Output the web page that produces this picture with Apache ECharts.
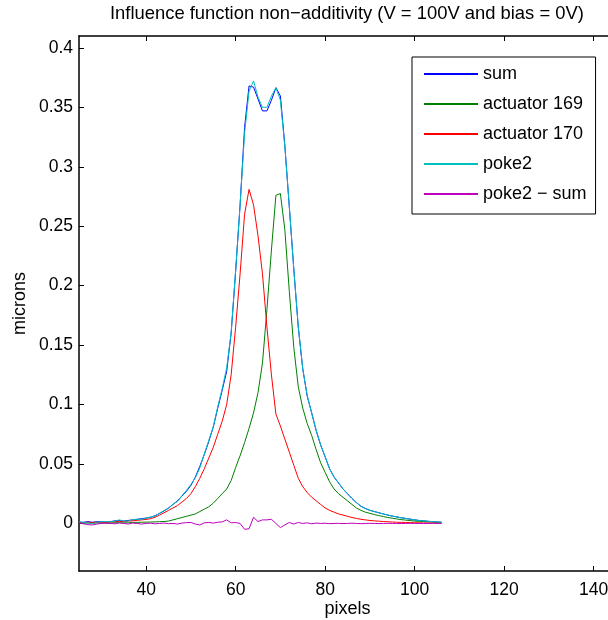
<!DOCTYPE html>
<html>
<head>
<meta charset="utf-8">
<script src="https://cdn.jsdelivr.net/npm/echarts@6/dist/echarts.min.js"></script>
<style>html,body{margin:0;padding:0;background:#fff;}#c{width:608px;height:620px;}</style>
</head>
<body>
<div id="c"></div>
<script>
const pixels = [25,26,27,28,29,30,31,32,33,34,35,36,37,38,39,40,41,42,43,44,45,46,47,48,49,50,51,52,53,54,55,56,57,58,59,60,61,62,63,64,65,66,67,68,69,70,71,72,73,74,75,76,77,78,79,80,81,82,83,84,85,86,87,88,89,90,91,92,93,94,95,96,97,98,99,100,101,102,103,104,105,106];
const sumVals = [0.0010,0.0010,0.0015,0.0010,0.0015,0.0015,0.0012,0.0015,0.0022,0.0025,0.0020,0.0025,0.0030,0.0035,0.0040,0.0045,0.0052,0.0065,0.0085,0.0105,0.0130,0.0160,0.0190,0.0230,0.0270,0.0320,0.0390,0.0480,0.0580,0.0690,0.0810,0.0970,0.1120,0.1280,0.1600,0.2120,0.2680,0.3330,0.3680,0.3670,0.3570,0.3470,0.3470,0.3560,0.3665,0.3595,0.3180,0.2660,0.2140,0.1650,0.1300,0.1070,0.0930,0.0780,0.0660,0.0560,0.0460,0.0390,0.0340,0.0290,0.0250,0.0210,0.0175,0.0145,0.0125,0.0110,0.0100,0.0090,0.0080,0.0070,0.0062,0.0055,0.0048,0.0042,0.0036,0.0030,0.0025,0.0022,0.0018,0.0015,0.0012,0.0010];
const act169 = [0.0002,0.0002,0.0004,0.0002,0.0004,0.0004,0.0002,0.0003,0.0006,0.0006,0.0005,0.0005,0.0008,0.0009,0.0010,0.0011,0.0012,0.0013,0.0015,0.0016,0.0020,0.0030,0.0040,0.0050,0.0060,0.0070,0.0080,0.0100,0.0120,0.0140,0.0170,0.0210,0.0250,0.0290,0.0360,0.0470,0.0570,0.0680,0.0800,0.0930,0.1100,0.1350,0.1800,0.2300,0.2760,0.2775,0.2470,0.1950,0.1480,0.1150,0.0970,0.0840,0.0740,0.0620,0.0510,0.0430,0.0350,0.0290,0.0250,0.0220,0.0190,0.0160,0.0130,0.0110,0.0095,0.0085,0.0075,0.0066,0.0058,0.0050,0.0044,0.0038,0.0032,0.0028,0.0024,0.0020,0.0018,0.0016,0.0014,0.0012,0.0010,0.0008];
const act170 = [0.0008,0.0008,0.0010,0.0008,0.0010,0.0010,0.0010,0.0012,0.0015,0.0018,0.0015,0.0020,0.0022,0.0026,0.0030,0.0034,0.0040,0.0052,0.0070,0.0090,0.0110,0.0130,0.0150,0.0180,0.0210,0.0250,0.0310,0.0380,0.0460,0.0550,0.0640,0.0750,0.0860,0.1000,0.1250,0.1650,0.2100,0.2600,0.2810,0.2680,0.2420,0.2100,0.1650,0.1250,0.0920,0.0820,0.0710,0.0600,0.0490,0.0380,0.0310,0.0260,0.0220,0.0190,0.0160,0.0130,0.0110,0.0095,0.0080,0.0070,0.0060,0.0050,0.0042,0.0035,0.0030,0.0025,0.0022,0.0019,0.0016,0.0014,0.0012,0.0010,0.0009,0.0008,0.0007,0.0006,0.0005,0.0005,0.0004,0.0003,0.0003,0.0002];
const poke2 = [0.0015,0.0007,0.0005,-0.0003,0.0010,0.0015,0.0015,0.0015,0.0019,0.0030,0.0020,0.0020,0.0033,0.0035,0.0035,0.0045,0.0054,0.0062,0.0085,0.0108,0.0128,0.0160,0.0185,0.0233,0.0277,0.0328,0.0385,0.0467,0.0585,0.0698,0.0813,0.0980,0.1133,0.1310,0.1605,0.2128,0.2680,0.3281,0.3635,0.3722,0.3586,0.3500,0.3500,0.3595,0.3665,0.3560,0.3168,0.2668,0.2135,0.1658,0.1300,0.1075,0.0927,0.0783,0.0660,0.0562,0.0458,0.0390,0.0341,0.0289,0.0250,0.0212,0.0175,0.0143,0.0125,0.0111,0.0100,0.0089,0.0080,0.0071,0.0062,0.0055,0.0047,0.0042,0.0037,0.0030,0.0025,0.0021,0.0018,0.0016,0.0012,0.0010];
const diffVals = [0.0005,-0.0003,-0.0010,-0.0013,-0.0005,0.0000,0.0003,0.0000,-0.0003,0.0005,0.0000,-0.0005,0.0003,0.0000,-0.0005,0.0000,0.0002,-0.0003,0.0000,0.0003,-0.0002,0.0000,-0.0005,0.0003,0.0007,0.0008,-0.0005,-0.0013,0.0005,0.0008,0.0003,0.0010,0.0013,0.0030,0.0005,0.0008,0.0000,-0.0049,-0.0045,0.0052,0.0016,0.0030,0.0030,0.0035,0.0000,-0.0035,-0.0012,0.0008,-0.0005,0.0008,0.0000,0.0005,-0.0003,0.0003,0.0000,0.0002,-0.0002,0.0000,0.0001,-0.0001,0.0000,0.0002,0.0000,-0.0002,0.0000,0.0001,0.0000,-0.0001,0.0000,0.0001,0.0000,0.0000,-0.0001,0.0000,0.0001,0.0000,0.0000,-0.0001,0.0000,0.0001,0.0000,0.0000];
const seriesNames = ['sum','actuator 169','actuator 170','poke2','poke2 \u2212 sum'];
const seriesColors = ['#0000ff','#008000','#ff0000','#00bfbf','#bf00bf'];
const xTicks = [40,60,80,100,120,140];
const yTicks = [0,0.05,0.1,0.15,0.2,0.25,0.3,0.35,0.4];
const titleText = 'Influence function non\u2212additivity (V = 100V and bias = 0V)';

const FONT = 'Liberation Sans';
const allSeries = [sumVals, act169, act170, poke2, diffVals];
const chart = echarts.init(document.getElementById('c'), null, {renderer:'canvas'});
chart.setOption({
  animation: false,
  backgroundColor: '#fff',
  title: {
    text: titleText, left: 110, top: 5, padding: 0,
    textStyle: {fontFamily: FONT, fontSize: 18.4, fontWeight: 'normal', color: '#000'}
  },
  legend: {
    data: seriesNames,
    orient: 'vertical', left: 412, top: 57,
    padding: [7, 9, 10, 11],
    itemWidth: 54, itemHeight: 20, itemGap: 10,
    itemStyle: {opacity: 0, color: 'transparent', borderWidth: 0},
    backgroundColor: '#fff', borderColor: '#000', borderWidth: 1,
    textStyle: {fontFamily: FONT, fontSize: 18, color: '#000', lineHeight: 20},
    selectedMode: false
  },
  grid: {left: 79, right: -8, top: 36, bottom: 49, containLabel: false, outerBoundsMode: 'none'},
  xAxis: [{
    type: 'value', min: 25, max: 145, position: 'bottom',
    name: 'pixels', nameLocation: 'middle', nameGap: 29, nameMoveOverlap: false,
    nameTextStyle: {fontFamily: FONT, fontSize: 18, color: '#000'},
    axisLine: {show: true, onZero: false, lineStyle: {color: '#000', width: 1.5}},
    axisTick: {show: true, inside: true, length: 5, customValues: xTicks, lineStyle: {color: '#000', width: 1}},
    axisLabel: {customValues: xTicks, margin: 10, fontFamily: FONT, fontSize: 17.5, color: '#000'},
    splitLine: {show: false}
  }, {
    type: 'value', min: 25, max: 145, position: 'top',
    axisLine: {show: true, onZero: false, lineStyle: {color: '#000', width: 1.5}},
    axisTick: {show: true, inside: true, length: 5, customValues: xTicks, lineStyle: {color: '#000', width: 1}},
    axisLabel: {show: false},
    splitLine: {show: false}
  }],
  yAxis: [{
    type: 'value', min: -0.04, max: 0.41, position: 'left',
    name: 'microns', nameLocation: 'middle', nameGap: 50, nameMoveOverlap: false,
    nameTextStyle: {fontFamily: FONT, fontSize: 18, color: '#000'},
    axisLine: {show: true, onZero: false, lineStyle: {color: '#000', width: 1.5}},
    axisTick: {show: true, inside: true, length: 5, customValues: yTicks, lineStyle: {color: '#000', width: 1}},
    axisLabel: {customValues: yTicks, margin: 6, fontFamily: FONT, fontSize: 17.5, color: '#000',
      formatter: v => String(Math.round(v * 100) / 100)},
    splitLine: {show: false}
  }],
  series: seriesNames.map((n, i) => ({
    name: n, type: 'line', xAxisIndex: 0, yAxisIndex: 0,
    data: pixels.map((p, j) => [p, allSeries[i][j]]),
    symbol: 'none', showSymbol: false,
    lineStyle: {color: seriesColors[i], width: 1},
    itemStyle: {color: seriesColors[i]},
    z: 2 + i
  }))
});
</script>
</body>
</html>
